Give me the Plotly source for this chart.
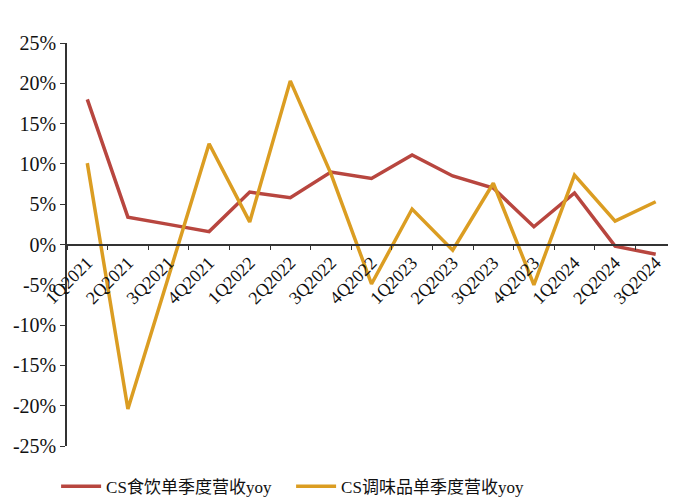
"""Quarterly yoy revenue growth: CS food & beverage vs CS condiments."""

import plotly.graph_objects as go

_RED = "#B8463F"
_GOLD = "#DB9D22"
_FONT = "Liberation Serif, Noto Sans CJK SC, serif"

quarters = [
    "1Q2021", "2Q2021", "3Q2021", "4Q2021",
    "1Q2022", "2Q2022", "3Q2022", "4Q2022",
    "1Q2023", "2Q2023", "3Q2023", "4Q2023",
    "1Q2024", "2Q2024", "3Q2024",
]
food_bev_yoy = [18.0, 3.4, 2.5, 1.6, 6.5, 5.8, 9.0, 8.2, 11.1, 8.5, 7.0, 2.2, 6.4, -0.2, -1.2]
condiment_yoy = [10.1, -20.4, -4.0, 12.5, 2.8, 20.3, 8.8, -4.9, 4.4, -0.7, 7.6, -5.0, 8.6, 2.9, 5.3]
y_ticks = [-25, -20, -15, -10, -5, 0, 5, 10, 15, 20, 25]

fig = go.Figure()
for name, values, color in [
    ("CS食饮单季度营收yoy", food_bev_yoy, _RED),
    ("CS调味品单季度营收yoy", condiment_yoy, _GOLD),
]:
    fig.add_trace(
        go.Scatter(
            x=quarters,
            y=values,
            mode="lines",
            name=name,
            line=dict(color=color, width=3.5),
        )
    )

# page body has an 8px margin, so the figure is sized/offset to compensate
fig.update_layout(
    width=668,
    height=491,
    paper_bgcolor="white",
    plot_bgcolor="white",
    font=dict(family=_FONT, size=16, color="#111111"),
    margin=dict(l=59, r=0, t=35, b=53),
    showlegend=True,
    legend=dict(
        orientation="h",
        xref="container",
        x=0.072,
        xanchor="left",
        yref="container",
        y=0.025,
        yanchor="middle",
        font=dict(size=17),
        entrywidth=180,
        itemwidth=40,
    ),
    xaxis=dict(
        type="category",
        range=[-0.5, len(quarters) - 0.5],
        anchor="free",
        position=0.5,
        automargin=False,
        showline=True,
        linecolor="#333333",
        linewidth=1.5,
        ticks="outside",
        tickson="boundaries",
        ticklen=5,
        tickcolor="#333333",
        tickangle=-45,
        tickfont=dict(size=18),
        showgrid=False,
        zeroline=False,
    ),
    yaxis=dict(
        range=[-25, 25],
        automargin=False,
        tickvals=y_ticks,
        ticktext=[f"{v}%" for v in y_ticks],
        showline=True,
        linecolor="#333333",
        linewidth=1.5,
        ticks="outside",
        ticklen=5,
        tickcolor="#333333",
        showgrid=False,
        zeroline=False,
        tickfont=dict(size=20),
    ),
)

fig.write_html("out.html")
